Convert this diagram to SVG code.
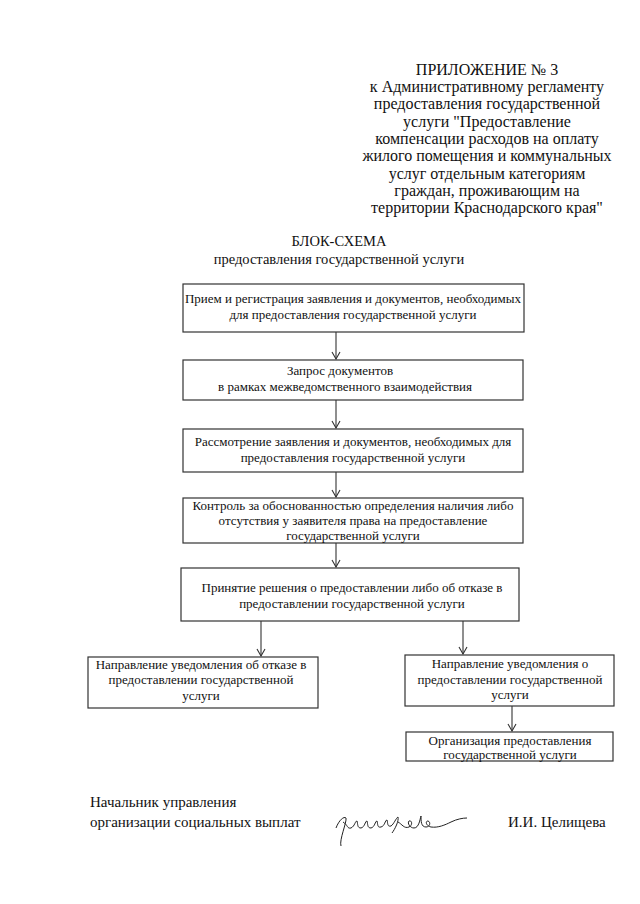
<svg xmlns="http://www.w3.org/2000/svg" width="640" height="904" viewBox="0 0 640 904">
<style>
text{font-family:"Liberation Serif","Times New Roman",serif;fill:#111;}
.h{font-size:16px;text-anchor:middle;}
.t{font-size:14.5px;text-anchor:middle;}
.b{font-size:13px;text-anchor:middle;}
.f{font-size:15px;}
.box{fill:#fff;stroke:#333;stroke-width:1.2;}
.c{stroke:#333;stroke-width:1.1;fill:none;}
</style>
<defs>
<marker id="ah" viewBox="0 0 10 10" refX="9" refY="5" markerWidth="10" markerHeight="10" markerUnits="userSpaceOnUse" orient="auto">
<polyline points="2,1 9,5 2,9" fill="none" stroke="#333" stroke-width="1.1"/>
</marker>
</defs>
<rect width="640" height="904" fill="#fff"/>
<g id="header" font-family="Liberation Serif, serif">
<text class="h" x="487" y="75">ПРИЛОЖЕНИЕ № 3</text>
<text class="h" x="487" y="92">к Административному регламенту</text>
<text class="h" x="487" y="109">предоставления государственной</text>
<text class="h" x="487" y="127">услуги "Предоставление</text>
<text class="h" x="487" y="144">компенсации расходов на оплату</text>
<text class="h" x="487" y="161">жилого помещения и коммунальных</text>
<text class="h" x="487" y="179">услуг отдельным категориям</text>
<text class="h" x="487" y="196">граждан, проживающим на</text>
<text class="h" x="487" y="213">территории Краснодарского края"</text>
</g>
<g id="title">
<text class="t" x="339" y="246">БЛОК-СХЕМА</text>
<text class="t" x="339" y="264">предоставления государственной услуги</text>
</g>
<g id="connectors">
<line class="c" x1="336" y1="332" x2="336" y2="359" marker-end="url(#ah)"/>
<line class="c" x1="336" y1="400" x2="336" y2="428" marker-end="url(#ah)"/>
<line class="c" x1="336" y1="472" x2="336" y2="497" marker-end="url(#ah)"/>
<line class="c" x1="336" y1="543" x2="336" y2="567" marker-end="url(#ah)"/>
<line class="c" x1="261" y1="621" x2="261" y2="656" marker-end="url(#ah)"/>
<line class="c" x1="463" y1="621" x2="463" y2="654" marker-end="url(#ah)"/>
<line class="c" x1="512" y1="706" x2="512" y2="731" marker-end="url(#ah)"/>
</g>
<g id="n1">
<rect class="box" x="183" y="284" width="341" height="48"/>
<text class="b" x="353" y="303">Прием и регистрация заявления и документов, необходимых</text>
<text class="b" x="353" y="319">для предоставления государственной услуги</text>
</g>
<g id="n2">
<rect class="box" x="183" y="360" width="340" height="40"/>
<text class="b" x="340" y="375">Запрос документов</text>
<text class="b" x="345" y="391">в рамках межведомственного взаимодействия</text>
</g>
<g id="n3">
<rect class="box" x="183" y="429" width="340" height="43"/>
<text class="b" x="353" y="446">Рассмотрение заявления и документов, необходимых для</text>
<text class="b" x="353" y="462">предоставления государственной услуги</text>
</g>
<g id="n4">
<rect class="box" x="183" y="498" width="340" height="45"/>
<text class="b" x="353" y="510">Контроль за обоснованностью определения наличия либо</text>
<text class="b" x="353" y="525">отсутствия у заявителя права на предоставление</text>
<text class="b" x="353" y="540">государственной услуги</text>
</g>
<g id="n5">
<rect class="box" x="181" y="568" width="338" height="53"/>
<text class="b" x="352" y="592">Принятие решения о предоставлении либо об отказе в</text>
<text class="b" x="352" y="608">предоставлении государственной услуги</text>
</g>
<g id="n6">
<rect class="box" x="88" y="657" width="230" height="51"/>
<text class="b" x="201" y="669">Направление уведомления об отказе в</text>
<text class="b" x="201" y="684">предоставлении государственной</text>
<text class="b" x="201" y="700">услуги</text>
</g>
<g id="n7">
<rect class="box" x="405" y="655" width="209" height="51"/>
<text class="b" x="510" y="668">Направление уведомления о</text>
<text class="b" x="510" y="684">предоставлении государственной</text>
<text class="b" x="510" y="699">услуги</text>
</g>
<g id="n8">
<rect class="box" x="406" y="732" width="207" height="29"/>
<text class="b" x="510" y="745">Организация предоставления</text>
<text class="b" x="510" y="759">государственной услуги</text>
</g>
<g id="footer">
<text class="f" x="90" y="807">Начальник управления</text>
<text class="f" x="90" y="827">организации социальных выплат</text>
<text class="f" x="508" y="827">И.И. Целищева</text>
<path d="M336 828 c3 -8 8 -12 10 -10 c1 4 -7 22 -5 28 M343 822 c5 3 4 7 8 6 c4 -2 4 -7 6 -7 c1 3 0 7 4 7 c4 -1 4 -7 6 -7 c1 3 0 7 4 7 c4 -1 4 -7 6 -7 c1 3 0 7 4 6 c4 -1 4 -7 6 -7 c1 3 0 7 4 6 c3 -2 5 -8 7 -9 c1 4 -3 12 -6 16 M398 822 c4 2 6 7 11 5 c4 -2 3 -7 0 -6 c-2 2 1 7 5 7 c5 0 6 -9 7 -12 c0 5 0 11 5 11 c4 0 5 -5 2 -6 c-3 0 -2 5 3 6 c7 1 14 -2 20 -5 c6 -3 12 -4 16 -4" fill="none" stroke="#222" stroke-width="1"/>
</g>
</svg>
